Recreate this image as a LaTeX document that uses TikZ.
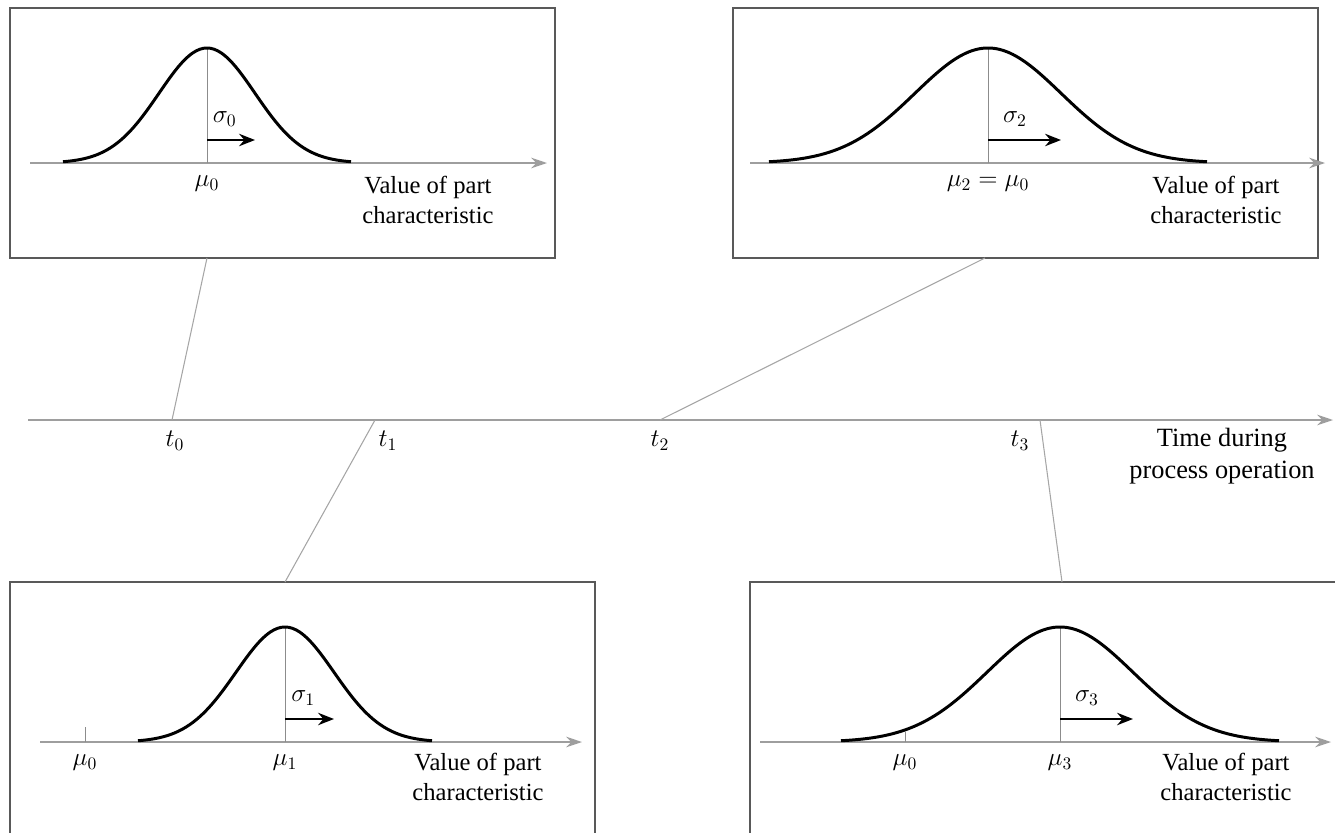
\documentclass[tikz,border=0pt]{standalone}
\usepackage{amsmath}
\usepackage{fontspec}
\setmainfont{Liberation Serif}
\usetikzlibrary{positioning,arrows.meta,fit}

\begin{document}
\begin{tikzpicture}[x=0.02cm, y=-0.02cm, >=Stealth, font=\fontsize{14}{17}\selectfont,
  panel/.style={draw=black!65, line width=1pt, inner sep=0pt},
  axis/.style={draw=black!38, line width=0.9pt, -{Stealth[length=9pt,width=6pt]}},
  link/.style={draw=black!35, line width=0.6pt},
  meanline/.style={draw=black!45, line width=0.5pt},
  bell/.style={line width=1.7pt},
  spread/.style={-{Stealth[length=9pt,width=7pt]}, line width=1.4pt},
  lbl/.style={inner sep=1pt},
  txt/.style={align=center, inner sep=1pt}]
  \useasboundingbox (0,0) rectangle (1335,832);

  % panels (the lower ones run off the page)
  \node[panel, fit={(10,8) (555,258)}] (box0) {};
  \node[panel, fit={(733,8) (1318,258)}] (box2) {};
  \node[panel, fit={(10,582) (595,845)}] (box1) {};
  \node[panel, fit={(750,582) (1345,845)}] (box3) {};

  % distributions
  \foreach \n/\mx/\s/\ay/\xa/\xb/\mlbl in {0/207/48/163/30/547/{$\mu_0$},
      2/988/73/163/750/1325/{$\mu_2=\mu_0$}, 1/285/49/742/40/582/{$\mu_1$},
      3/1060/73/742/760/1331/{$\mu_3$}}{
    \draw[axis] (\xa,\ay) -- (\xb,\ay);
    \draw[meanline] (\mx,\ay) -- (\mx,\ay-115);
    \draw[bell] plot[domain=-3:3, samples=81, smooth]
      ({\mx+\s*\x}, {\ay-115*exp(-0.5*(\x)*(\x))});
    \draw[spread] (\mx,\ay-23) -- (\mx+\s,\ay-23);
    \node[lbl] (sig\n) at ({\mx+0.37*\s},\ay-44) {$\sigma_{\n}$};
    \node[lbl] (mu\n) at (\mx,\ay+21) {\mlbl};
  }
  % old mean in the shifted panels
  \draw[meanline] (85,742) -- (85,727);
  \draw[meanline] (905,742) -- (905,732);
  \node[lbl] (old1) at (85,763) {$\mu_0$};
  \node[lbl] (old3) at (905,763) {$\mu_0$};

  \foreach \n/\tx/\ty in {0/428/200, 2/1216/200, 1/478/777, 3/1226/777}{
    \node[txt] (val\n) at (\tx,\ty) {Value of part\\characteristic};
  }

  % time axis
  \coordinate (ts) at (28,420);
  \coordinate (te) at (1333,420);
  \draw[axis] (ts) -- (te);
  \node[txt, font=\fontsize{15}{18}\selectfont] (time) at (1222,456) {Time during\\process operation};
  \foreach \n/\tx in {0/175, 1/388, 2/660, 3/1020}{
    \node[lbl] (lt\n) at (\tx,441) {$t_{\n}$};
  }

  % links between panels and time axis
  \coordinate (tm0) at (172,420);
  \coordinate (tm1) at (375,420);
  \coordinate (tm2) at (660,420);
  \coordinate (tm3) at (1040,420);
  \coordinate (b0) at (207,258);
  \coordinate (b1) at (285,582);
  \coordinate (b2) at (985,258);
  \coordinate (b3) at (1062,582);
  \foreach \n in {0,...,3}{
    \draw[link] (b\n) -- (tm\n);
  }
\end{tikzpicture}
\end{document}
